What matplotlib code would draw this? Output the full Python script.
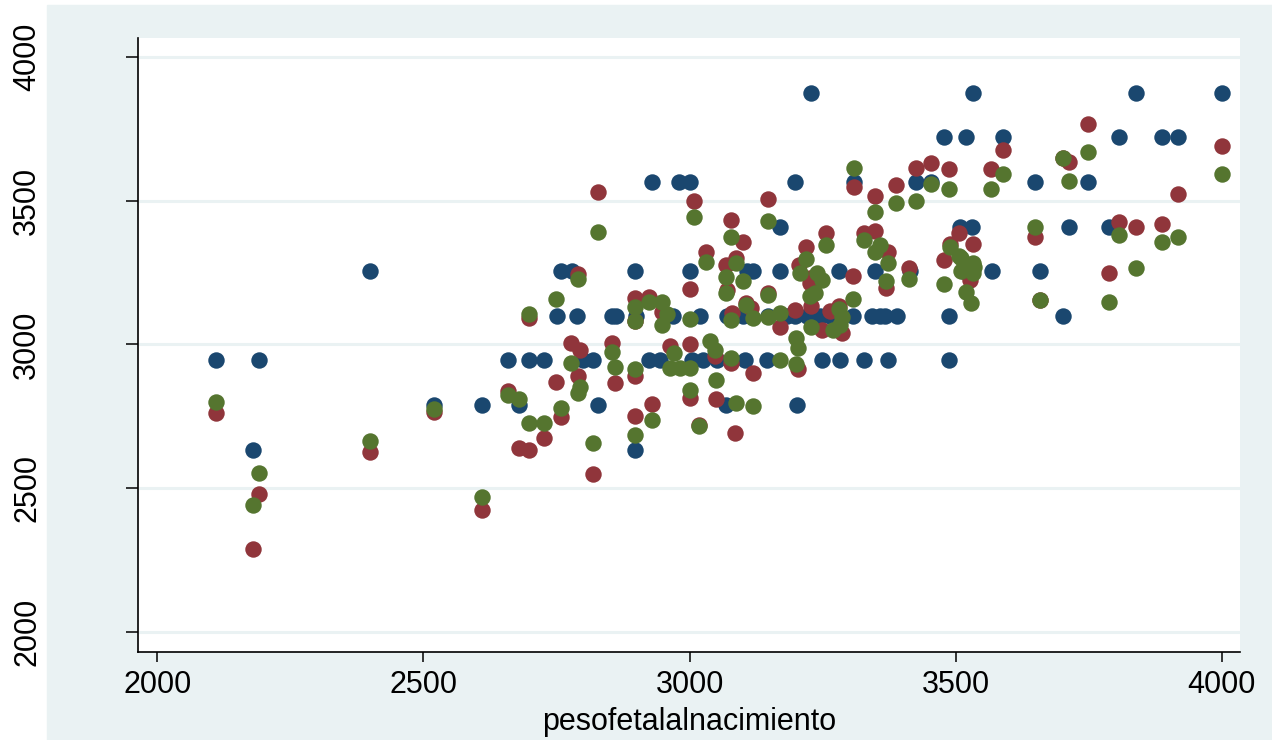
import matplotlib.pyplot as plt
from matplotlib.patches import Rectangle

# series 1 (navy)
blue_x = [3228, 3533, 3839, 4000,
          3478, 3519, 3588, 3807, 3888, 3918,
          2930, 2980, 3000, 3199, 3309, 3425, 3454, 3649, 3748,
          3170, 3508, 3530, 3713, 3787,
          2400, 2759, 2779, 2898, 3000, 3108, 3119, 3170, 3280, 3349, 3414, 3514, 3568, 3658,
          2751, 2789, 2854, 2862, 2900, 2969, 3020, 3070, 3100, 3114, 3148, 3183, 3198, 3221,
          3245, 3264, 3307, 3343, 3358, 3367, 3390, 3487, 3701,
          2110, 2191, 2659, 2699, 2726, 2800, 2819, 2923, 2945, 3004, 3026, 3051, 3104, 3145,
          3248, 3283, 3327, 3373, 3488,
          2520, 2610, 2680, 2829, 3069, 3202,
          2180, 2898]
blue_y = [3876] * 4 + [3721] * 6 + [3566] * 9 + [3410] * 5 + [3256] * 14 + \
         [3100] * 23 + [2946] * 19 + [2790] * 6 + [2633] * 2

# series 2 (maroon)
red_x = [2110, 2191, 2180, 2400, 2520, 2610, 2659, 2680, 2699, 2726, 2759, 2819,
         2829, 3009, 3078, 3030, 2790, 3000, 2699, 2898, 2898, 2923, 2949, 2778, 2794,
         2750, 2790, 2854, 2860, 2898, 2964, 3000, 3000, 3048, 3049, 3078, 3085, 2898,
         2929, 3018,
         3308, 3425, 3454, 3488, 3388, 3349, 3148, 3101, 3257, 3327, 3349, 3373, 3219,
         3206, 3227, 3148, 3307, 3413, 3369, 3489, 3533, 3507, 3478, 3527, 3198, 3229,
         3264, 3280, 3286, 3248, 3170, 3069, 3088, 3107, 3116, 3079, 3204, 3119, 3070,
         3227,
         3748, 3588, 4000, 3567, 3702, 3713, 3918, 3807, 3839, 3888, 3649, 3788, 3658]
red_y = [2762, 2480, 2288, 2627, 2764, 2424, 2838, 2638, 2631, 2673, 2749, 2549,
         3532, 3500, 3433, 3323, 3246, 3193, 3093, 3163, 3080, 3166, 3114, 3004, 2981,
         2871, 2891, 3004, 2867, 2890, 2995, 3001, 2813, 2958, 2809, 2935, 2691, 2751,
         2792, 2720,
         3547, 3613, 3632, 3610, 3555, 3516, 3506, 3358, 3389, 3389, 3396, 3320, 3338,
         3278, 3230, 3178, 3239, 3265, 3196, 3350, 3350, 3389, 3294, 3224, 3120, 3132,
         3118, 3132, 3039, 3050, 3060, 3277, 3300, 3143, 3126, 3108, 2913, 2899, 3190,
         3212,
         3767, 3677, 3692, 3610, 3649, 3634, 3522, 3427, 3410, 3419, 3373, 3248, 3155]

# series 3 (forest green)
green_x = [2110, 2191, 2180, 2400, 2520, 2610, 2659, 2680, 2699, 2726, 2759, 2819,
           3009, 2829, 3078, 3030, 2790, 2750, 2699, 2898, 2898, 2923, 2949, 2949, 2957,
           3000, 3078, 2778, 2794, 2790, 2854, 2860, 2898, 2970, 2963, 2982, 3000, 3000,
           3038, 3048, 3049, 3078, 3088, 2898, 2929, 3018,
           3308, 3425, 3454, 3488, 3388, 3349, 3148, 3257, 3327, 3358, 3349, 3373, 3219,
           3208, 3239, 3248, 3236, 3227, 3148, 3307, 3413, 3369, 3478, 3489, 3510, 3520,
           3535, 3510, 3519, 3529, 3280, 3286, 3270, 3283, 3229, 3170, 3148, 3120, 3107,
           3069, 3069, 3088, 3101, 3169, 3200, 3204, 3200, 3119,
           3588, 3567, 3702, 3748, 3713, 4000, 3807, 3888, 3918, 3649, 3839, 3658, 3788,
           3507, 3533, 3533]
green_y = [2800, 2552, 2441, 2664, 2776, 2468, 2824, 2809, 2727, 2727, 2780, 2657,
           3445, 3390, 3373, 3286, 3228, 3157, 3106, 3130, 3080, 3149, 3149, 3068, 3106,
           3090, 3085, 2937, 2853, 2830, 2973, 2921, 2913, 2969, 2917, 2917, 2917, 2842,
           3011, 2981, 2876, 2952, 2796, 2684, 2737, 2715,
           3613, 3499, 3558, 3540, 3493, 3462, 3430, 3346, 3362, 3346, 3323, 3285, 3297,
           3250, 3248, 3224, 3178, 3169, 3172, 3157, 3227, 3219, 3210, 3338, 3300, 3280,
           3270, 3255, 3183, 3143, 3122, 3097, 3050, 3068, 3062, 3108, 3097, 3091, 3137,
           3178, 3236, 3282, 3219, 2946, 3022, 2987, 2931, 2786,
           3592, 3541, 3649, 3671, 3570, 3592, 3381, 3357, 3374, 3410, 3267, 3155, 3149,
           3306, 3282, 3247]

x_ticks = [2000, 2500, 3000, 3500, 4000]
y_ticks = [2000, 2500, 3000, 3500, 4000]

plt.rcParams['font.family'] = ['Liberation Sans', 'DejaVu Sans']

fig = plt.figure(figsize=(12.72, 7.40), dpi=100, facecolor='white')
# stata-like light outer region (left strip and top line stay white)
fig.patches.append(Rectangle((47 / 1272, 0), 1 - 47 / 1272, 735 / 740,
                             transform=fig.transFigure, color='#EAF2F3', zorder=-10))

ax = fig.add_axes([138 / 1272, 88 / 740, 1102 / 1272, 614 / 740])
ax.set_zorder(1)
ax.set_facecolor('white')

ms = 140
ax.scatter(blue_x, blue_y, s=ms, color='#1A476F', linewidths=0, zorder=3)
ax.scatter(red_x, red_y, s=ms, color='#90353B', linewidths=0, zorder=4)
ax.scatter(green_x, green_y, s=ms, color='#55752F', linewidths=0, zorder=5)

ax.set_xlim(1964, 4034)
ax.set_ylim(1930, 4066)
ax.set_xticks(x_ticks)
ax.set_yticks(y_ticks)
ax.set_yticklabels([str(v) for v in y_ticks], rotation=90, va='center')

for v in y_ticks:
    ax.axhline(v, color='#EAF2F3', lw=2.2, zorder=1)

for side in ['top', 'right']:
    ax.spines[side].set_visible(False)
for side in ['left', 'bottom']:
    ax.spines[side].set_linewidth(1.2)
    ax.spines[side].set_color('black')

ax.tick_params(axis='x', length=7, width=1.1, labelsize=22, pad=6)
ax.tick_params(axis='y', length=9, width=1.1, labelsize=22, pad=60)

ax.set_xlabel('pesofetalalnacimiento', fontsize=22, labelpad=5)

fig.savefig('out.png', dpi=100, facecolor=fig.get_facecolor())
